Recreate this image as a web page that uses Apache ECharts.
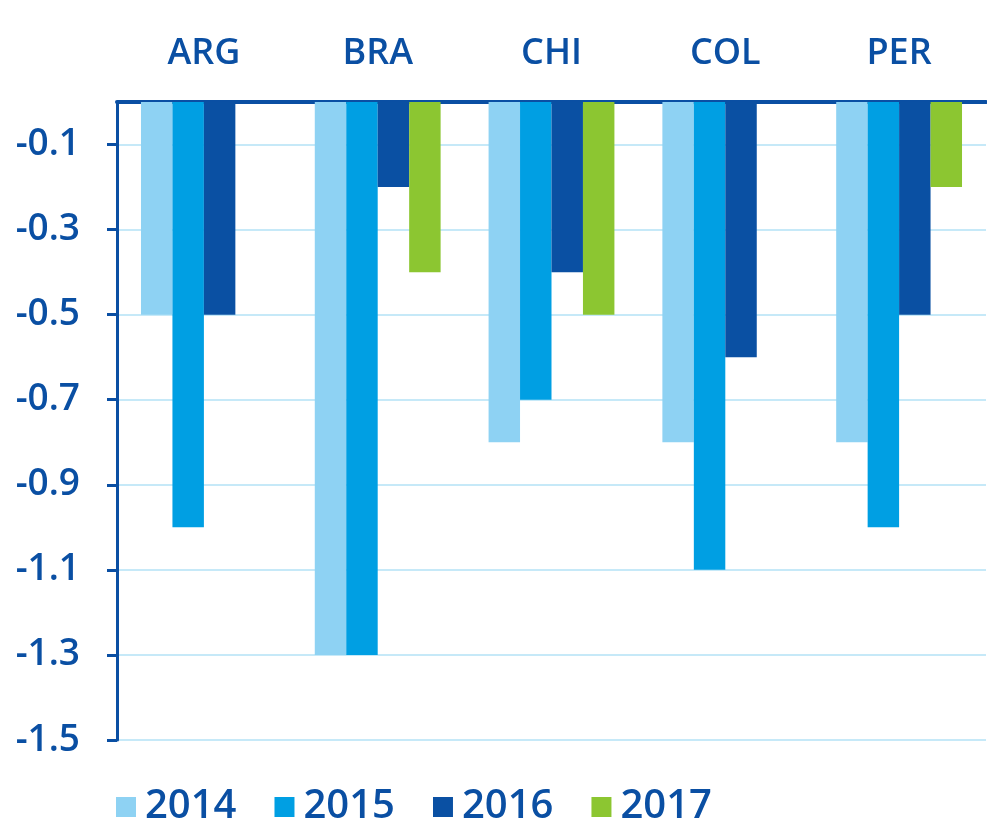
<!DOCTYPE html>
<html>
<head>
<meta charset="utf-8">
<script src="https://cdn.jsdelivr.net/npm/echarts@6/dist/echarts.min.js"></script>
<style>
  html, body { margin: 0; padding: 0; background: #fff; }
  #chart { width: 987px; height: 819px; }
</style>
</head>
<body>
<div id="chart"></div>
<script>
  // countries along the top axis
  const countries = ['ARG', 'BRA', 'CHI', 'COL', 'PER'];
  // one array per year, '-' = no bar
  const y2014 = [-0.5, -1.3, -0.8, -0.8, -0.8];
  const y2015 = [-1.0, -1.3, -0.7, -1.1, -1.0];
  const y2016 = [-0.5, -0.2, -0.4, -0.6, -0.5];
  const y2017 = ['-', -0.4, -0.5, '-', -0.2];
  const yTicks = [-1.5, -1.3, -1.1, -0.9, -0.7, -0.5, -0.3, -0.1];

  const dark = '#0a4fa3';
  const font = '"Open Sans", "Noto Sans", sans-serif';

  const chart = echarts.init(document.getElementById('chart'));

  const mkSeries = (name, data, color) => ({
    name: name,
    type: 'bar',
    data: data,
    barGap: 0,
    barCategoryGap: '27.6%',
    itemStyle: { color: color },
    emphasis: { disabled: true }
  });

  chart.setOption({
    animation: false,
    grid: { left: 117, right: 1, top: 102, bottom: 79, containLabel: false },
    legend: {
      left: 111,
      top: 782,
      itemWidth: 20,
      itemHeight: 20,
      itemGap: 38,
      icon: 'rect',
      textStyle: { color: dark, fontSize: 40, fontWeight: 600, fontFamily: font, padding: [0, 0, 0, 4] },
      data: ['2014', '2015', '2016', '2017']
    },
    xAxis: {
      type: 'category',
      position: 'top',
      data: countries,
      axisLine: { lineStyle: { color: dark, width: 4 } },
      axisTick: { inside: true, length: 9, lineStyle: { color: dark, width: 3 } },
      axisLabel: { color: dark, fontSize: 36, fontWeight: 600, fontFamily: font, margin: 30 },
      splitLine: { show: false }
    },
    yAxis: {
      type: 'value',
      min: -1.5,
      max: 0,
      axisLine: { show: true, lineStyle: { color: dark, width: 3 } },
      axisTick: { show: true, length: 10, customValues: yTicks, lineStyle: { color: dark, width: 3 } },
      axisLabel: {
        color: dark, fontSize: 37, fontWeight: 600, fontFamily: font, margin: 37,
        customValues: yTicks,
        formatter: v => v.toFixed(1)
      },
      splitLine: { show: true, lineStyle: { color: '#c6e9f8', width: 2 } }
    },
    series: [
      mkSeries('2014', y2014, '#8ed2f3'),
      mkSeries('2015', y2015, '#009fe3'),
      mkSeries('2016', y2016, '#0a50a3'),
      mkSeries('2017', y2017, '#8cc631')
    ]
  });
</script>
</body>
</html>
